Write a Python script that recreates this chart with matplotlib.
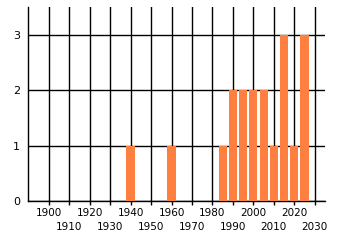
import matplotlib
matplotlib.use('Agg')
import matplotlib.pyplot as plt

years = [1940, 1960, 1985, 1990, 1995, 2000, 2005, 2010, 2015, 2020, 2025]
counts = [1, 1, 1, 2, 2, 2, 2, 1, 3, 1, 3]
row1_years = [1900, 1920, 1940, 1960, 1980, 2000, 2020]
row2_years = [1910, 1930, 1950, 1970, 1990, 2010, 2030]
y_ticks = [0, 1, 2, 3]

fig = plt.figure(figsize=(3.4, 2.45), dpi=100)
ax = fig.add_axes([0.083, 0.18, 0.873, 0.791])

ax.bar(years, counts, width=4.0, color='#ff7f41', zorder=3)

ax.set_xlim(1890, 2035)
ax.set_ylim(0, 3.5)

# staggered labels: major ticks on the first row, minor ticks on the second
ax.set_xticks(row1_years)
ax.set_xticklabels([str(v) for v in row1_years], fontsize=7.5)
ax.set_xticks(row2_years, minor=True)
ax.set_xticklabels([str(v) for v in row2_years], minor=True, fontsize=7.5)
ax.set_yticks(y_ticks)
ax.set_yticklabels([str(v) for v in y_ticks], fontsize=8)

ax.grid(True, which='both', axis='x', color='black', linewidth=1.0)
ax.grid(True, which='major', axis='y', color='black', linewidth=1.0)
ax.set_axisbelow(True)
for side in ['top', 'right']:
    ax.spines[side].set_visible(False)
for side in ['left', 'bottom']:
    ax.spines[side].set_linewidth(1.0)
ax.tick_params(axis='x', which='major', length=3, width=1, pad=2)
ax.tick_params(axis='x', which='minor', length=3, width=1, pad=12.5)
ax.tick_params(axis='y', length=0, pad=6)

fig.savefig("out.png", dpi=100)
